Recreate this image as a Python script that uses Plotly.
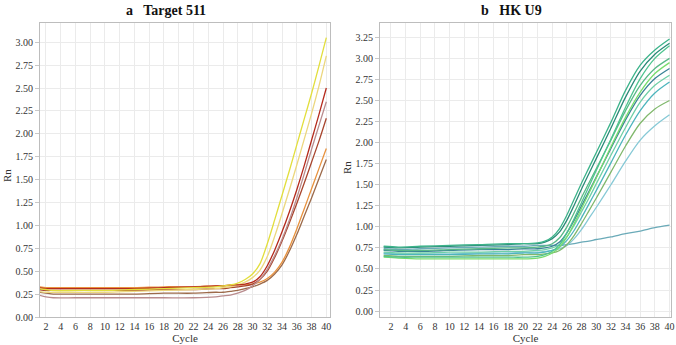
import plotly.graph_objects as go

# ---------------- Panel a: Target 511 ----------------
cycles_a = [1, 2, 3, 6, 10, 14, 18, 22, 25, 26, 27, 28, 29, 30, 31, 32, 33, 34, 35, 36, 37, 38, 39, 40]

a_yellow = [0.31, 0.30, 0.29, 0.29, 0.29, 0.30, 0.31, 0.32, 0.33, 0.34, 0.35, 0.37, 0.41, 0.47, 0.58, 0.80, 1.06, 1.33, 1.60, 1.88, 2.16, 2.44, 2.74, 3.05]
a_paleyellow = [0.28, 0.27, 0.27, 0.27, 0.27, 0.28, 0.29, 0.30, 0.31, 0.32, 0.33, 0.35, 0.38, 0.43, 0.51, 0.66, 0.88, 1.13, 1.39, 1.66, 1.94, 2.22, 2.52, 2.85]
a_red = [0.32, 0.31, 0.31, 0.31, 0.31, 0.31, 0.32, 0.33, 0.34, 0.34, 0.35, 0.35, 0.36, 0.38, 0.44, 0.56, 0.73, 0.93, 1.15, 1.39, 1.65, 1.93, 2.21, 2.50]
a_mauve = [0.24, 0.22, 0.21, 0.21, 0.21, 0.21, 0.21, 0.21, 0.22, 0.23, 0.24, 0.26, 0.29, 0.34, 0.41, 0.52, 0.67, 0.85, 1.06, 1.30, 1.56, 1.83, 2.09, 2.35]
a_redbrown = [0.30, 0.29, 0.29, 0.29, 0.29, 0.29, 0.30, 0.30, 0.31, 0.31, 0.32, 0.33, 0.34, 0.36, 0.41, 0.50, 0.65, 0.83, 1.03, 1.24, 1.46, 1.69, 1.92, 2.17]
a_orange = [0.33, 0.32, 0.32, 0.32, 0.32, 0.32, 0.33, 0.33, 0.34, 0.34, 0.34, 0.35, 0.35, 0.36, 0.38, 0.42, 0.49, 0.60, 0.76, 0.96, 1.18, 1.40, 1.62, 1.84]
a_brown = [0.27, 0.26, 0.25, 0.25, 0.25, 0.25, 0.26, 0.26, 0.27, 0.27, 0.28, 0.29, 0.31, 0.33, 0.36, 0.40, 0.47, 0.57, 0.72, 0.90, 1.10, 1.30, 1.51, 1.72]

series_a = [a_brown, a_orange, a_redbrown, a_mauve, a_paleyellow, a_red, a_yellow]
colors_a = ["#9c6a4a", "#e8923e", "#a8452e", "#b98c8e", "#ecd77e", "#b52a1c", "#e2de3c"]

# ---------------- Panel b: HK U9 ----------------
cycles_b = [1, 3, 6, 10, 14, 18, 20, 22, 23, 24, 25, 26, 27, 28, 29, 30, 32, 34, 36, 38, 40]

b_g1 = [0.77, 0.76, 0.77, 0.78, 0.79, 0.80, 0.80, 0.81, 0.83, 0.88, 0.98, 1.14, 1.33, 1.52, 1.70, 1.88, 2.24, 2.62, 2.92, 3.10, 3.23]
b_g2 = [0.76, 0.75, 0.76, 0.77, 0.78, 0.79, 0.80, 0.80, 0.82, 0.86, 0.94, 1.08, 1.26, 1.45, 1.63, 1.81, 2.17, 2.54, 2.85, 3.05, 3.18]
b_g3 = [0.73, 0.72, 0.72, 0.73, 0.74, 0.75, 0.75, 0.76, 0.77, 0.80, 0.87, 1.00, 1.17, 1.35, 1.52, 1.69, 2.03, 2.38, 2.68, 2.88, 3.00]
b_g4 = [0.72, 0.71, 0.71, 0.72, 0.73, 0.73, 0.74, 0.74, 0.75, 0.77, 0.82, 0.93, 1.08, 1.25, 1.42, 1.59, 1.93, 2.27, 2.56, 2.76, 2.88]
b_g5 = [0.70, 0.69, 0.69, 0.70, 0.70, 0.71, 0.71, 0.72, 0.73, 0.75, 0.79, 0.88, 1.02, 1.18, 1.34, 1.51, 1.85, 2.18, 2.48, 2.68, 2.80]
b_g6 = [0.68, 0.67, 0.67, 0.67, 0.68, 0.68, 0.69, 0.69, 0.70, 0.72, 0.76, 0.84, 0.96, 1.11, 1.27, 1.43, 1.76, 2.09, 2.38, 2.59, 2.72]
b_g7 = [0.66, 0.65, 0.65, 0.65, 0.66, 0.66, 0.67, 0.67, 0.68, 0.69, 0.72, 0.79, 0.90, 1.04, 1.19, 1.34, 1.65, 1.96, 2.23, 2.40, 2.50]
b_g8 = [0.69, 0.68, 0.68, 0.68, 0.69, 0.69, 0.70, 0.70, 0.71, 0.72, 0.74, 0.78, 0.86, 0.97, 1.10, 1.23, 1.50, 1.78, 2.03, 2.20, 2.33]
b_g9 = [0.64, 0.63, 0.62, 0.62, 0.62, 0.62, 0.62, 0.63, 0.65, 0.69, 0.76, 0.88, 1.04, 1.22, 1.40, 1.58, 1.95, 2.30, 2.60, 2.82, 2.95]
b_g10 = [0.65, 0.64, 0.64, 0.64, 0.64, 0.64, 0.64, 0.65, 0.67, 0.71, 0.79, 0.93, 1.10, 1.29, 1.48, 1.67, 2.04, 2.42, 2.76, 3.00, 3.15]
b_flat = [0.74, 0.73, 0.74, 0.75, 0.76, 0.77, 0.77, 0.78, 0.78, 0.78, 0.78, 0.79, 0.80, 0.82, 0.83, 0.85, 0.88, 0.92, 0.95, 0.99, 1.02]

series_b = [b_flat, b_g8, b_g7, b_g6, b_g5, b_g4, b_g3, b_g9, b_g10, b_g2, b_g1]
colors_b = ["#6aaab8", "#86c9d6", "#80b86c", "#4db5bd", "#6fcfa6", "#3a8296", "#58b886", "#78dc6e", "#4fc48f", "#2b8a78", "#3cb38a"]

x_ticks = list(range(2, 41, 2))

fig = go.Figure()
for ys, c in zip(series_a, colors_a):
    fig.add_trace(go.Scatter(x=cycles_a, y=ys, mode="lines", line=dict(color=c, width=1.3, shape="spline", smoothing=0.8),
                             xaxis="x", yaxis="y", showlegend=False, hoverinfo="skip"))
for ys, c in zip(series_b, colors_b):
    fig.add_trace(go.Scatter(x=cycles_b, y=ys, mode="lines", line=dict(color=c, width=1.3, shape="spline", smoothing=0.8),
                             xaxis="x2", yaxis="y2", showlegend=False, hoverinfo="skip"))

W, H = 676, 345
ML, MR, MT, MB = 40, 3, 23, 28
PW, PH = W - ML - MR, H - MT - MB
SERIF = "Liberation Serif"
tickfont = dict(family=SERIF, size=10, color="#333")
common_x = dict(tickmode="array", tickvals=x_ticks, ticktext=[str(t) for t in x_ticks], showgrid=True,
                gridcolor="#ebebeb", gridwidth=1, showline=True, linecolor="#bdbdbd", mirror=True,
                ticks="", tickfont=tickfont, zeroline=False, automargin=False,
                title=dict(text="Cycle", font=dict(family=SERIF, size=11, color="#333"), standoff=1))
common_y = dict(tickformat=".2f", dtick=0.25, tick0=0, showgrid=True, gridcolor="#ebebeb", gridwidth=1,
                showline=True, linecolor="#bdbdbd", mirror=True, ticks="outside", ticklen=4, tickcolor="#c8c8c8",
                tickfont=tickfont, zeroline=False, automargin=False)

def px_x(x):
    return (x - ML) / PW

fig.update_layout(
    width=W, height=H, margin=dict(l=ML, r=MR, t=MT, b=MB, autoexpand=False),
    paper_bgcolor="white", plot_bgcolor="white",
    font=dict(family=SERIF, size=10, color="#333"),
    xaxis=dict(common_x, domain=[px_x(40), px_x(330)], range=[1.2, 40.5], anchor="y"),
    yaxis=dict(common_y, domain=[0, 1], range=[0, 3.21], anchor="x"),
    xaxis2=dict(common_x, domain=[px_x(380), px_x(671)], range=[0.5, 40.2], anchor="y2"),
    yaxis2=dict(common_y, domain=[0, 1], range=[-0.07, 3.42], anchor="x2"),
    annotations=[
        dict(text="<b>a   Target 511</b>", x=166, y=H - 11, xref="paper", yref="paper", showarrow=False,
             font=dict(family=SERIF, size=14, color="#111"), xanchor="center", yanchor="middle"),
        dict(text="<b>b   HK U9</b>", x=511, y=H - 11, xref="paper", yref="paper", showarrow=False,
             font=dict(family=SERIF, size=14, color="#111"), xanchor="center", yanchor="middle"),
        dict(text="Rn", x=7, y=H - 176, xref="paper", yref="paper", showarrow=False, textangle=-90,
             font=dict(family=SERIF, size=11, color="#333"), xanchor="center", yanchor="middle"),
        dict(text="Rn", x=347, y=H - 168, xref="paper", yref="paper", showarrow=False, textangle=-90,
             font=dict(family=SERIF, size=11, color="#333"), xanchor="center", yanchor="middle"),
    ],
)

# convert annotation pixel positions to paper coordinates (relative to plot area)
for ann in fig.layout.annotations:
    ann.x = (ann.x - ML) / PW
    ann.y = (ann.y - MB) / PH

fig.write_html("out.html", config={"displayModeBar": False, "staticPlot": True},
               post_script="document.body.style.margin='0';document.body.style.overflow='hidden';")
